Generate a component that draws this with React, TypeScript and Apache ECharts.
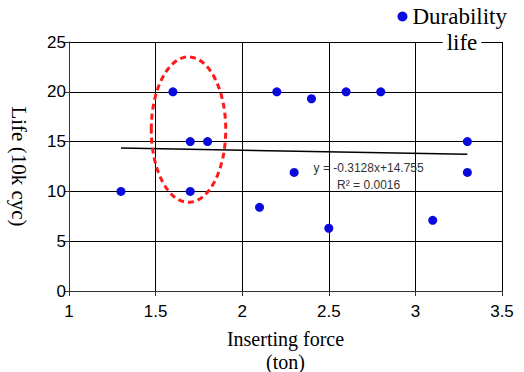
import React, { useEffect, useRef } from "react";
import * as echarts from "echarts";

const forceTon = [1.3, 1.6, 1.7, 1.8, 1.7, 2.1, 2.2, 2.3, 2.4, 2.5, 2.6, 2.8, 3.1, 3.3, 3.3];
const lifeValues = [10, 20, 15, 15, 10, 8.4, 20, 11.9, 19.3, 6.3, 20, 20, 7.1, 15, 11.9];
const trendSlope = -0.3128;
const trendIntercept = 14.755;
const trendRange = [1.3, 3.3];
const xTicks = [1, 1.5, 2, 2.5, 3, 3.5];
const yTicks = [0, 5, 10, 15, 20, 25];
const highlightCenter = [1.69, 16.2];
const highlightRadius = [0.215, 7.3];

export default function App() {
  const ref = useRef<HTMLDivElement>(null);
  useEffect(() => {
    if (!ref.current) return;
    const chart = echarts.init(ref.current, null, { renderer: "svg" });
    const sans = "Liberation Sans, Arial, sans-serif";
    const serif = "Liberation Serif, Times New Roman, serif";
    const trendData = trendRange.map((x) => [x, trendSlope * x + trendIntercept]);
    chart.setOption({
      animation: false,
      backgroundColor: "#fff",
      grid: { left: 69, right: 22, top: 42, bottom: 81, containLabel: false, outerBoundsMode: "none" },
      legend: {
        data: [{ name: "Durability", icon: "circle" }],
        right: 12,
        top: 0,
        itemWidth: 10,
        itemHeight: 10,
        itemGap: 4,
        textStyle: { fontFamily: serif, fontSize: 23, color: "#000" },
      },
      xAxis: {
        type: "value",
        min: xTicks[0],
        max: xTicks[xTicks.length - 1],
        interval: 0.5,
        name: "Inserting force\n(ton)",
        nameLocation: "middle",
        nameGap: 36,
        nameTextStyle: { fontFamily: serif, fontSize: 20, color: "#000", lineHeight: 23 },
        axisLine: { lineStyle: { color: "#333", width: 1 } },
        axisTick: { show: true, length: 5, lineStyle: { color: "#333" } },
        axisLabel: { fontFamily: sans, fontSize: 17, color: "#000", margin: 12 },
        splitLine: { show: true, lineStyle: { color: "#000", width: 1 } },
      },
      yAxis: {
        type: "value",
        min: yTicks[0],
        max: yTicks[yTicks.length - 1],
        interval: 5,
        name: "Life (10k cyc)",
        nameLocation: "middle",
        nameRotate: -90,
        nameGap: 40,
        nameTextStyle: { fontFamily: serif, fontSize: 21, color: "#000" },
        axisLine: { show: true, lineStyle: { color: "#333", width: 1 } },
        axisTick: { show: true, length: 5, lineStyle: { color: "#333" } },
        axisLabel: { fontFamily: sans, fontSize: 17, color: "#000", margin: 3 },
        splitLine: { show: true, lineStyle: { color: "#000", width: 1 } },
      },
      series: [
        {
          name: "Durability",
          type: "scatter",
          data: forceTon.map((x, i) => [x, lifeValues[i]]),
          symbol: "circle",
          symbolSize: 9,
          itemStyle: { color: "#0a0adc", opacity: 1 },
          z: 5,
        },
        {
          name: "trend",
          type: "line",
          data: trendData,
          showSymbol: false,
          symbol: "none",
          lineStyle: { color: "#000", width: 1.5 },
          z: 4,
        },
      ],
    });
    const c = chart.convertToPixel({ gridIndex: 0 }, highlightCenter) as number[];
    const e = chart.convertToPixel({ gridIndex: 0 }, [
      highlightCenter[0] + highlightRadius[0],
      highlightCenter[1] + highlightRadius[1],
    ]) as number[];
    const eqAnchor = chart.convertToPixel({ gridIndex: 0 }, [2.73, 12.35]) as number[];
    chart.setOption({
      graphic: [
        {
          type: "ellipse",
          shape: { cx: c[0], cy: c[1], rx: Math.abs(e[0] - c[0]), ry: Math.abs(e[1] - c[1]) },
          style: { fill: "none", stroke: "#ff1a1a", lineWidth: 3, lineDash: [6, 4] },
          z: 10,
        },
        {
          type: "text",
          x: eqAnchor[0],
          y: eqAnchor[1],
          style: {
            text: "y = -0.3128x+14.755",
            fontFamily: sans,
            fontSize: 12,
            fill: "#333",
            align: "center",
            verticalAlign: "middle",
          },
          z: 10,
        },
        {
          type: "text",
          x: eqAnchor[0],
          y: eqAnchor[1] + 17,
          style: {
            text: "R² = 0.0016",
            fontFamily: sans,
            fontSize: 12,
            fill: "#333",
            align: "center",
            verticalAlign: "middle",
          },
          z: 10,
        },
        {
          type: "text",
          x: 462,
          y: 42,
          style: {
            text: "life",
            fontFamily: serif,
            fontSize: 23,
            lineHeight: 20,
            fill: "#000",
            align: "center",
            verticalAlign: "middle",
            backgroundColor: "#fff",
            padding: [0, 4],
          },
          z: 10,
        },
      ],
    });
    return () => chart.dispose();
  }, []);
  return <div ref={ref} style={{ width: 524, height: 372, position: "absolute", left: 0, top: 0 }} />;
}
